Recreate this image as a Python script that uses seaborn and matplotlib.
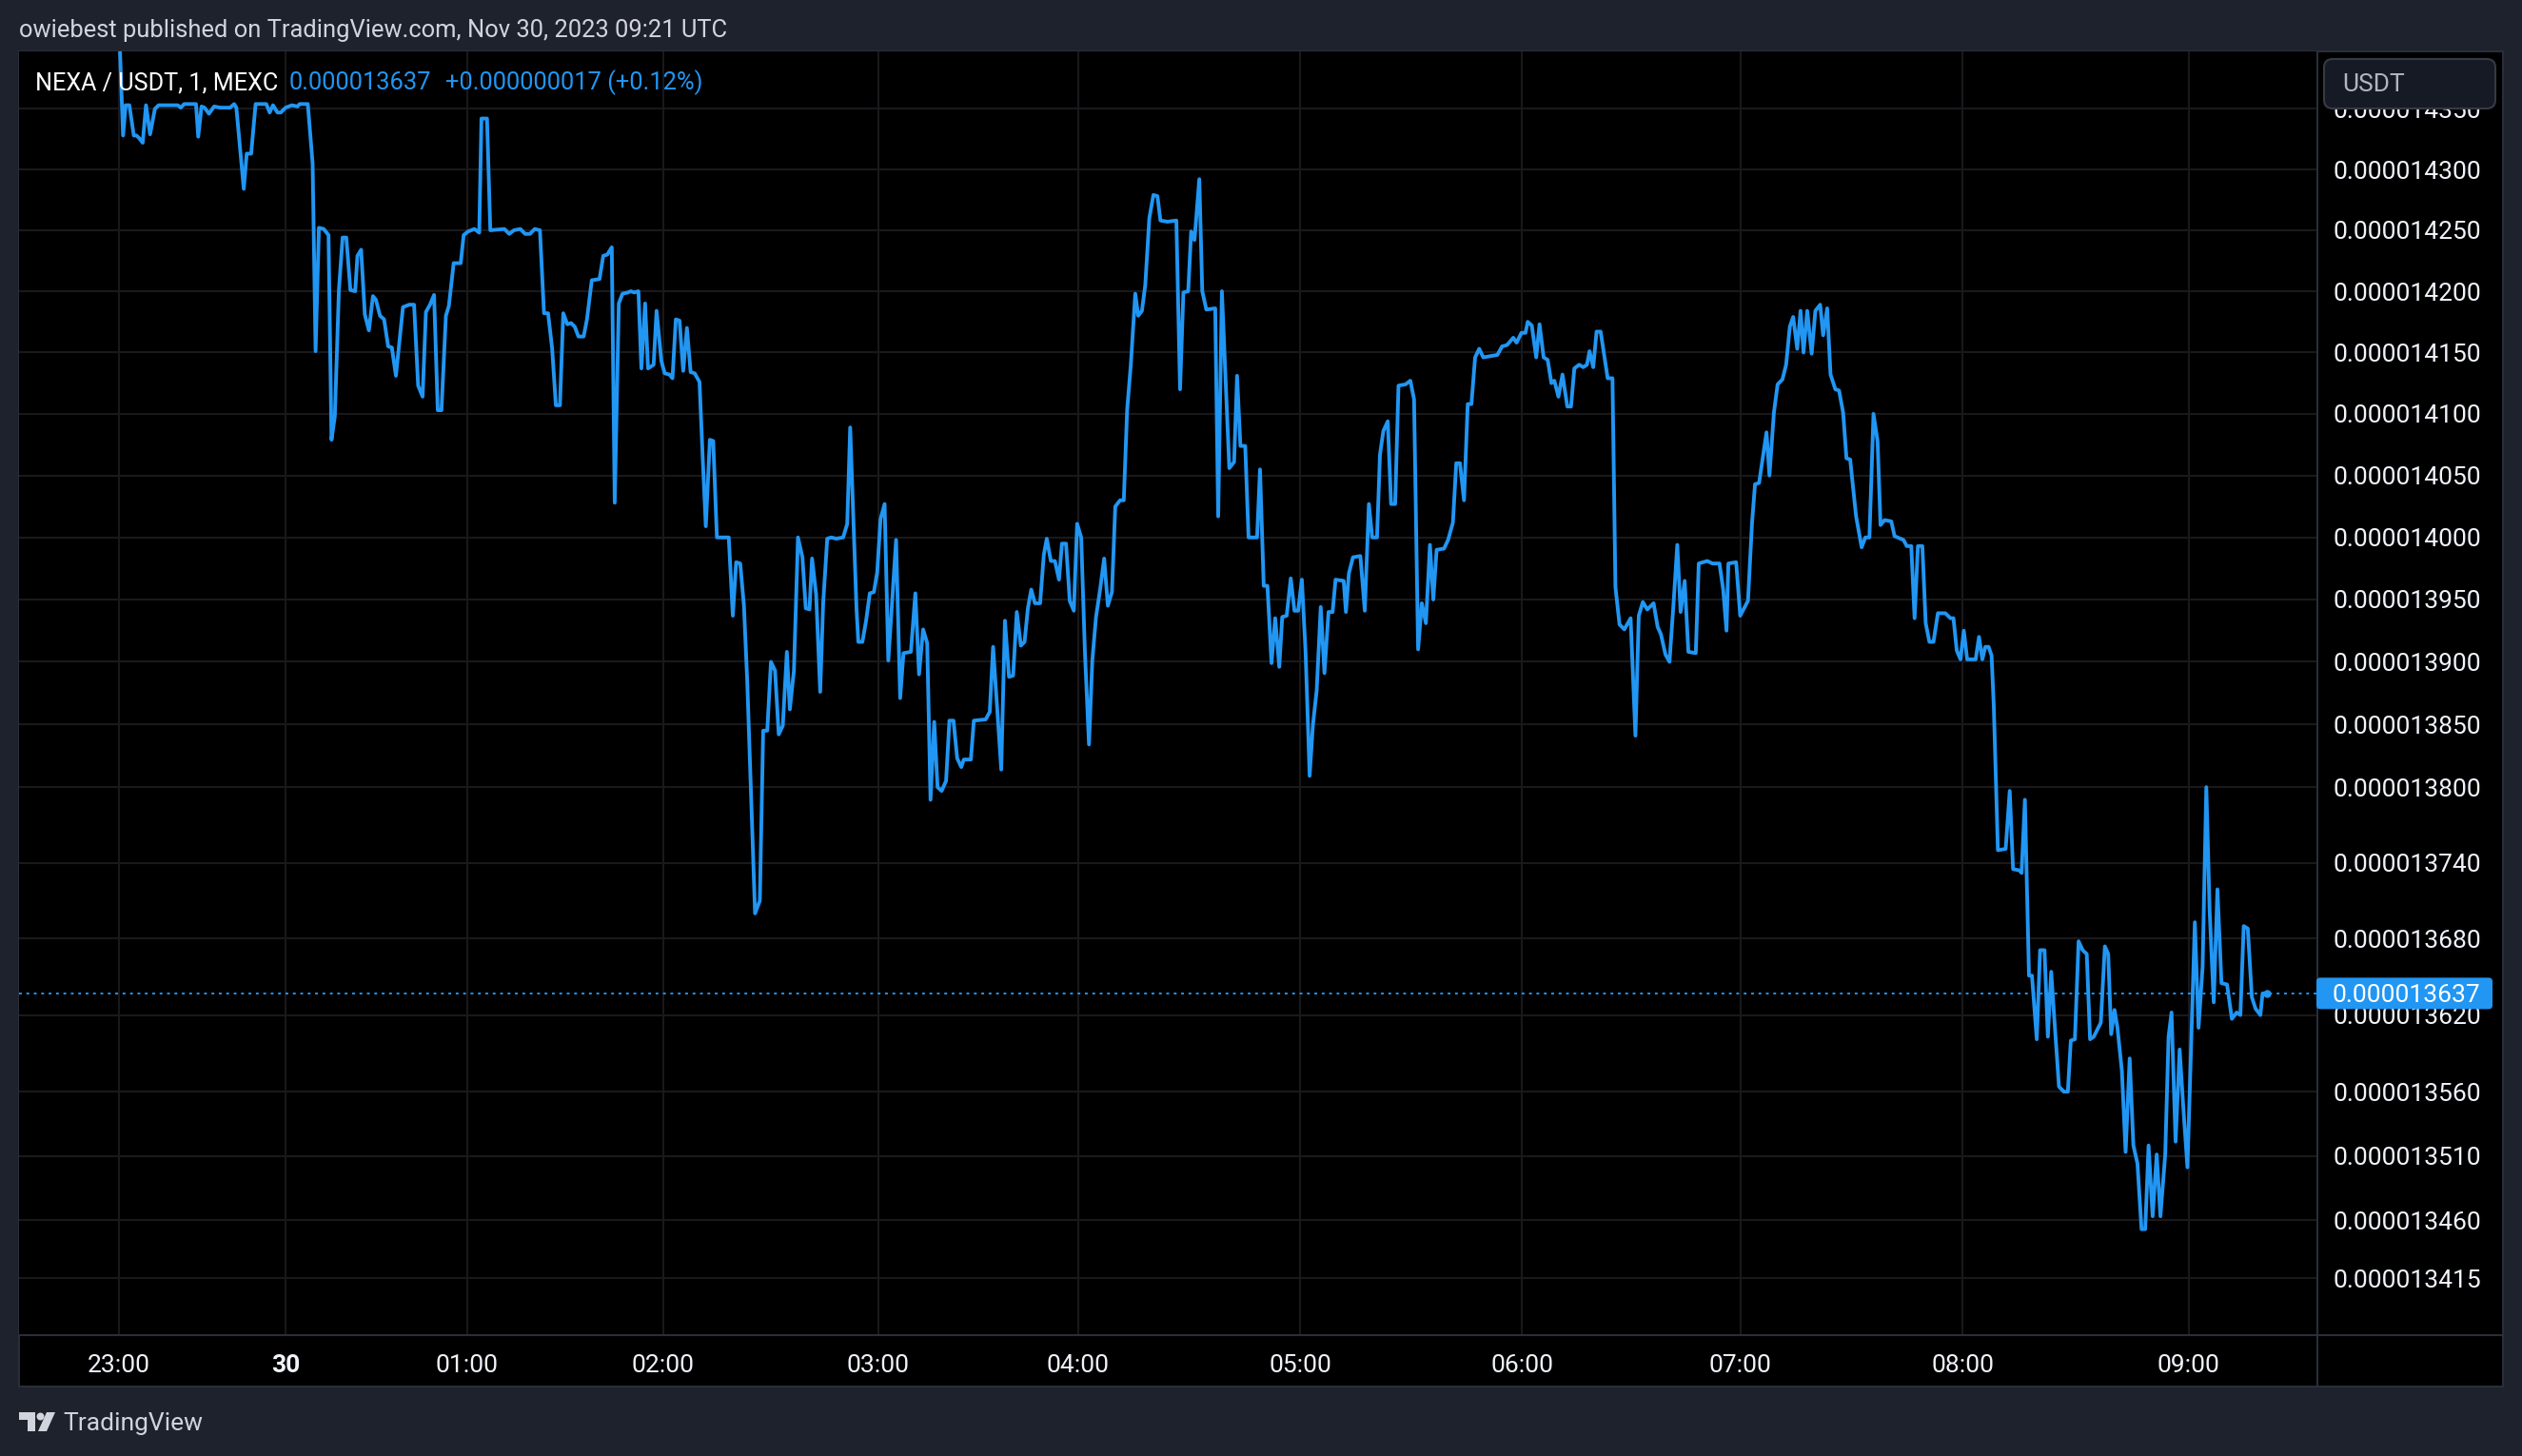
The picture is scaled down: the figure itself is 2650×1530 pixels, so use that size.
import matplotlib
matplotlib.use("Agg")
import matplotlib.pyplot as plt
from matplotlib.patches import Rectangle, FancyBboxPatch, Polygon, Circle
from matplotlib.lines import Line2D
from matplotlib.transforms import IdentityTransform
from matplotlib.ticker import FixedLocator, FixedFormatter, NullLocator
import seaborn as sns
import numpy as np

# ==========================================
# DATA: NEXA/USDT 1-minute closes (bar index counted from 23:00, price in 1e-9 USDT)
# ==========================================
bars = [
    0, 1.1, 1.8, 2.8, 4.0, 4.7, 5.4, 6.4, 7.3, 8.4,
    9.7, 10.7, 15.9, 16.7, 17.6, 20.8, 21.4, 22.3, 23.1, 24.3,
    25.7, 27.4, 30.0, 31.1, 31.7, 33.7, 34.5, 35.7, 36.9, 39.8,
    40.7, 41.6, 42.8, 43.7, 45.0, 46.7, 48.2, 48.8, 51.0, 52.3,
    53.1, 54.0, 55.3, 56.6, 57.4, 58.3, 59.4, 60.4, 61.4, 62.5,
    63.8, 64.4, 65.4, 66.4, 67.5, 68.6, 69.4, 70.5, 71.6, 72.7,
    73.7, 74.8, 76.7, 78.4, 79.7, 80.8, 82.0, 82.9, 84.0, 85.1,
    86.1, 87.1, 88.3, 89.1, 90.4, 92.3, 93.1, 94.3, 96.0, 97.3,
    97.9, 99.4, 100.3, 104.1, 105.4, 106.7, 108.4, 109.7, 111.0, 112.3,
    113.7, 114.8, 115.9, 117.0, 118.0, 119.1, 120.0, 121.1, 122.1, 123.1,
    124.1, 125.5, 126.4, 127.7, 129.8, 130.8, 131.9, 133.1, 133.9, 135.0,
    136.0, 137.5, 138.2, 139.2, 140.3, 141.1, 142.1, 142.9, 144.4, 145.2,
    146.5, 147.4, 148.7, 149.5, 150.4, 151.4, 152.4, 153.4, 154.4, 155.5,
    156.8, 157.7, 158.5, 159.6, 160.5, 161.5, 164.7, 165.8, 166.7, 167.8,
    168.8, 169.7, 171.8, 173.1, 174.0, 175.1, 176.1, 177.2, 178.2, 179.3,
    180.4, 181.2, 182.3, 183.4, 184.6, 185.5, 186.5,
    187.2, 188.3, 189.4, 190.2, 191.3, 192.4, 193.7, 195.6, 196.7, 197.5,
    199.2, 199.7, 200.8, 201.8, 202.8, 203.9, 204.8, 205.7, 206.8, 207.8,
    208.8, 209.9, 211.0, 211.9, 213.9, 215.1, 216.1, 217.2, 218.3, 219.2,
    220.2, 221.1, 222.2, 223.4, 224.3, 225.4, 226.4, 227.5, 228.2, 230.1,
    230.9, 234.1, 235.2, 236.1, 238.3, 239.3, 240.4, 241.5, 242.5, 243.6,
    244.6, 245.5, 246.4, 247.4, 248.8, 249.8, 250.6, 251.7, 252.8, 253.9,
    254.7, 255.8, 256.8, 257.9, 258.8, 259.9, 260.9, 262.0, 262.9, 263.9,
    265.0, 266.1, 267.1, 268.2, 269.1, 270.4, 271.4, 272.3, 273.3, 274.5,
    275.3, 276.3, 277.2, 278.3, 279.4, 280.5, 281.3, 283.2, 285.6,
    286.6, 287.5, 288.8, 289.6, 290.5, 291.8, 292.6, 293.7, 296.1, 296.9,
    297.9, 299.9, 301.2, 302.0, 302.9, 304.2, 305.1, 307.4, 308.2, 309.2,
    310.2, 311.3, 312.3, 313.4, 314.2, 315.4, 316.5, 317.5, 318.5, 319.5,
    320.5, 321.6, 322.5, 323.5, 324.6, 325.6, 326.7, 327.8, 328.6, 330.8,
    331.4, 332.2, 333.3, 335.3, 336.5, 337.6, 338.5, 339.8, 340.6, 341.5,
    342.7, 343.6, 344.7, 345.6, 347.5, 348.8, 349.8, 350.9, 351.9, 353.0,
    354.1, 355.0, 355.9, 357.9, 359.0, 360.3, 361.2, 362.2, 363.3, 364.3,
    365.3, 366.3, 367.4, 368.5, 372.3, 373.6, 374.9, 376.6, 377.5, 378.8,
    379.9,
    380.5, 381.6, 382.8, 383.7, 384.8, 385.9, 386.9, 387.7, 388.8, 389.9,
    391.2, 392.2, 393.1, 394.4, 395.5, 396.5, 397.2, 398.2, 399.1, 400.2,
    402.1, 403.4, 404.2, 405.3, 406.6, 408.3, 409.6, 410.5, 411.6, 412.8,
    414.5, 415.6, 416.5, 417.7, 418.8, 419.9, 420.9, 421.8, 422.9, 423.9,
    425.9, 426.7, 429.0, 430.4, 432.3, 433.3, 434.2, 434.7, 436.8, 437.9,
    440.0, 441.1, 441.9, 443.0, 445.0, 445.8, 447.0, 448.0, 449.3, 450.3,
    451.3, 452.2, 453.3, 454.2, 455.0, 456.0, 457.2, 458.2, 459.5, 460.3,
    461.4, 462.3, 463.6, 464.6, 465.7, 466.6, 467.6, 469.2, 470.7, 471.7,
    472.8, 473.9, 475.0, 475.8, 476.9, 478.7,
    479.6, 482.0, 482.9, 484.1, 485.0, 485.9, 487.1, 488.0, 489.0, 490.1,
    491.3, 493.3, 494.7, 495.5, 496.4, 497.4, 498.3, 499.2, 501.5, 502.4,
    503.3, 504.1, 505.0, 505.8, 506.4, 507.5, 509.6, 510.7, 511.6, 513.3,
    513.9, 514.8, 515.9, 516.7, 518.0, 518.9, 520.1, 521.0, 521.9, 522.7,
    524.0, 525.3, 526.4, 527.2, 528.3, 529.3, 530.4, 531.5, 532.4, 533.4,
    535.3, 536.4, 537.3, 538.1, 539.0, 539.8, 541.0, 542.0, 543.1, 544.1,
    545.2, 546.3, 547.3, 548.2, 549.3, 550.4, 551.4, 552.7, 553.6, 554.4,
    555.5, 556.6, 557.6, 558.7, 560.7, 561.7, 562.8, 563.8, 564.7, 565.8,
    566.8, 567.9, 569.4, 570.7, 572.0, 573.0, 573.9, 575.0, 576.1, 577.1,
    578.4, 579.0, 580.1,
]

price_e9 = [
    14420, 14328, 14353, 14353, 14328, 14328, 14326, 14322, 14353, 14329,
    14350, 14353, 14353, 14351, 14354, 14354, 14327, 14352, 14351, 14346,
    14352, 14351, 14351, 14354, 14351, 14284, 14313, 14313, 14354, 14354,
    14347, 14353, 14347, 14347, 14351, 14353, 14352, 14354, 14354, 14305,
    14151, 14252, 14251, 14246, 14079, 14098, 14201, 14244, 14244, 14201,
    14200, 14229, 14234, 14181, 14168, 14196, 14193, 14180, 14177, 14155,
    14154, 14131, 14187, 14189, 14189, 14123, 14114, 14183, 14189, 14197,
    14103, 14103, 14180, 14188, 14223, 14223, 14246, 14249, 14251, 14248,
    14342, 14342, 14250, 14251, 14247, 14250, 14251, 14247, 14247, 14251,
    14250, 14182, 14182, 14153, 14107, 14107, 14182, 14173, 14174, 14171,
    14163, 14163, 14177, 14209, 14210, 14229, 14230, 14236, 14028, 14190,
    14198, 14199, 14200, 14199, 14200, 14137, 14190, 14137, 14140, 14184,
    14143, 14133, 14132, 14129, 14177, 14176, 14135, 14170, 14134, 14133,
    14126, 14062, 14009, 14079, 14078, 14000, 14000, 13937, 13980, 13979,
    13945, 13884, 13700, 13710, 13845, 13845, 13900, 13893, 13842, 13849,
    13908, 13862, 13893, 14000, 13984, 13943, 13942,
    13983, 13954, 13876, 13947, 13999, 14000, 13999, 14000, 14011, 14089,
    13943, 13916, 13916, 13933, 13955, 13956, 13972, 14015, 14027, 13901,
    13947, 13998, 13871, 13907, 13908, 13955, 13890, 13926, 13915, 13790,
    13852, 13800, 13797, 13805, 13853, 13853, 13823, 13816, 13822, 13822,
    13853, 13854, 13860, 13912, 13814, 13933, 13888, 13889, 13940, 13913,
    13916, 13943, 13958, 13947, 13947, 13986, 13999, 13981, 13981, 13966,
    13995, 13995, 13949, 13941, 14011, 14000, 13908, 13834, 13901, 13936,
    13958, 13983, 13945, 13956, 14025, 14030, 14030, 14103, 14140, 14198,
    14180, 14184, 14205, 14260, 14279, 14278, 14258, 14257, 14258,
    14120, 14199, 14200, 14249, 14242, 14292, 14200, 14185, 14186, 14017,
    14200, 14056, 14061, 14131, 14074, 14074, 14000, 14000, 14055, 13961,
    13961, 13899, 13935, 13896, 13936, 13937, 13967, 13941, 13941, 13966,
    13908, 13809, 13850, 13877, 13944, 13891, 13940, 13940, 13966, 13965,
    13940, 13971, 13984, 13985, 13941, 14027, 14000, 14000, 14067, 14086,
    14094, 14027, 14027, 14123, 14124, 14127, 14112, 13910, 13947, 13931,
    13994, 13950, 13990, 13991, 13998, 14012, 14060, 14060, 14030, 14108,
    14108, 14146, 14153, 14146, 14148, 14155, 14156, 14162, 14158, 14166,
    14166,
    14175, 14172, 14146, 14173, 14146, 14144, 14125, 14127, 14114, 14132,
    14106, 14106, 14137, 14140, 14138, 14140, 14151, 14138, 14167, 14167,
    14129, 14129, 13960, 13930, 13926, 13935, 13841, 13937, 13948, 13942,
    13947, 13928, 13922, 13906, 13900, 13947, 13994, 13940, 13965, 13908,
    13907, 13979, 13981, 13979, 13979, 13958, 13925, 13979, 13980, 13937,
    13949, 14012, 14043, 14044, 14085, 14050, 14101, 14124, 14128, 14140,
    14171, 14179, 14153, 14184, 14150, 14184, 14149, 14184, 14189, 14164,
    14186, 14132, 14120, 14119, 14101, 14064, 14063, 14017, 13992, 14000,
    14000, 14100, 14078, 14010, 14014, 14013,
    14001, 13998, 13993, 13993, 13935, 13993, 13993, 13931, 13916, 13916,
    13939, 13939, 13935, 13935, 13909, 13902, 13925, 13902, 13902, 13920,
    13902, 13912, 13912, 13905, 13864, 13750, 13751, 13797, 13735, 13734,
    13732, 13790, 13651, 13651, 13601, 13671, 13671, 13603, 13654, 13619,
    13564, 13560, 13560, 13600, 13601, 13678, 13671, 13668, 13601, 13603,
    13614, 13674, 13668, 13605, 13624, 13610, 13576, 13513, 13586, 13518,
    13504, 13453, 13453, 13518, 13463, 13511, 13463, 13511, 13603, 13622,
    13521, 13593, 13547, 13501, 13693, 13610, 13658, 13800, 13702, 13630,
    13719, 13645, 13644, 13617, 13622, 13620, 13690, 13688, 13634, 13625,
    13620, 13637, 13637,
]

time_tick_bars = [0, 45, 94, 147, 205, 259, 319, 379, 438, 498, 559]
time_tick_labels = ["23:00", "30", "01:00", "02:00", "03:00", "04:00",
                    "05:00", "06:00", "07:00", "08:00", "09:00"]
price_ticks_e9 = [14350, 14300, 14250, 14200, 14150, 14100, 14050, 14000,
                  13950, 13900, 13850, 13800, 13740, 13680, 13620, 13560,
                  13510, 13460, 13415]
last_price_e9 = 13637

assert len(bars) == len(price_e9)
price = np.array(price_e9) * 1e-9

# ==========================================
# STYLE
# ==========================================
W, H = 2650, 1530
BG = "#1e222d"
SEP = "#2a2e39"
GRID = "#19191c"
BLUE = "#2196f3"
TXT = "#d1d4dc"
WHITE = "#f0f3fa"

sns.set_theme(style="dark")
plt.rcParams['font.family'] = ['Roboto', 'DejaVu Sans']

fig = plt.figure(figsize=(W / 100, H / 100), dpi=100, facecolor=BG)
ident = IdentityTransform()

# black chart panel (plot + both axis strips)
fig.add_artist(Rectangle((20, H - 1457), 2610, 1403, transform=ident,
                         facecolor="black", edgecolor=SEP, lw=1.5, zorder=-1))

ax = fig.add_axes([20 / W, (H - 1403) / H, (2435 - 20) / W, (1403 - 54) / H])
ax.set_facecolor("black")

sns.lineplot(x=bars, y=price, ax=ax, color=BLUE, linewidth=2.8,
             estimator=None, sort=False)
ax.plot(bars[-1], price[-1], "o", ms=5, color=BLUE)
ax.axhline(last_price_e9 * 1e-9, color=BLUE, lw=1.4, ls=(0, (1.5, 2.5)))

ax.set_yscale("log")
ax.set_xlim(-27.0, 593.8)
ax.set_ylim(13371.1e-9, 14397.6e-9)

ax.yaxis.set_major_locator(FixedLocator([v * 1e-9 for v in price_ticks_e9]))
ax.yaxis.set_major_formatter(FixedFormatter([f"{v * 1e-9:.9f}" for v in price_ticks_e9]))
ax.yaxis.set_minor_locator(NullLocator())
ax.yaxis.tick_right()
ax.set_xticks(time_tick_bars)
ax.set_xticklabels(time_tick_labels)
ax.get_xticklabels()[1].set_fontweight("bold")

ax.tick_params(axis="x", length=0, pad=14.5, labelsize=19, labelcolor=WHITE)
ax.tick_params(axis="y", length=0, pad=11.8, labelsize=19, labelcolor=WHITE)
ax.grid(True, which="major", color=GRID, linewidth=1.5)
ax.set_axisbelow(True)
ax.set_xlabel("")
ax.set_ylabel("")
for s in ax.spines.values():
    s.set_visible(False)

# axis separators
fig.add_artist(Line2D([2435, 2435], [H - 54, H - 1457], transform=ident, color=SEP, lw=1.5))
fig.add_artist(Line2D([20, 2630], [H - 1403, H - 1403], transform=ident, color=SEP, lw=1.5))

# last price tag on the price scale
yd = ax.transData.transform((0, last_price_e9 * 1e-9))[1]
fig.add_artist(FancyBboxPatch((2434, yd - 16.5), 185, 33, transform=ident,
                              boxstyle="round,pad=0,rounding_size=4",
                              facecolor=BLUE, edgecolor="none", zorder=5))
fig.text(2451 / W, yd / H, f"{last_price_e9 * 1e-9:.9f}", color="white",
         size=19, va="center_baseline", ha="left", zorder=6)

# currency button
fig.add_artist(FancyBboxPatch((2442, H - 114), 180, 52, transform=ident,
                              boxstyle="round,pad=0,rounding_size=9",
                              facecolor="#161a25", edgecolor="#363a45", lw=1.5, zorder=5))
fig.text(2461 / W, (H - 87) / H, "USDT", color="#b2b5be", size=19,
         va="center_baseline", ha="left", zorder=6)

# header and legend texts
fig.text(20 / W, (H - 39) / H, "owiebest published on TradingView.com, Nov 30, 2023 09:21 UTC",
         color=TXT, size=18.4, va="baseline", ha="left")
fig.text(37 / W, (H - 94) / H, "NEXA / USDT, 1, MEXC", color="white", size=18.1,
         va="baseline", ha="left")
fig.text(304 / W, (H - 94) / H, "0.000013637", color=BLUE, size=18.4,
         va="baseline", ha="left")
fig.text(468 / W, (H - 94) / H, "+0.000000017 (+0.12%)", color=BLUE, size=18.4,
         va="baseline", ha="left")

# footer logo
fig.add_artist(Polygon([(20, H - 1484), (37, H - 1484), (37, H - 1504), (29, H - 1504),
                        (29, H - 1492), (20, H - 1492)], closed=True, transform=ident,
                       facecolor=TXT, edgecolor="none"))
fig.add_artist(Circle((42.5, H - 1488.5), 4, transform=ident, facecolor=TXT, edgecolor="none"))
fig.add_artist(Polygon([(49, H - 1484), (58, H - 1484), (49, H - 1504), (40, H - 1504)],
                       closed=True, transform=ident, facecolor=TXT, edgecolor="none"))
fig.text(66 / W, (H - 1503) / H, "TradingView", color=TXT, size=19, va="baseline", ha="left")

fig.savefig("out.png", dpi=100, facecolor=BG)
print("Saved out.png")
